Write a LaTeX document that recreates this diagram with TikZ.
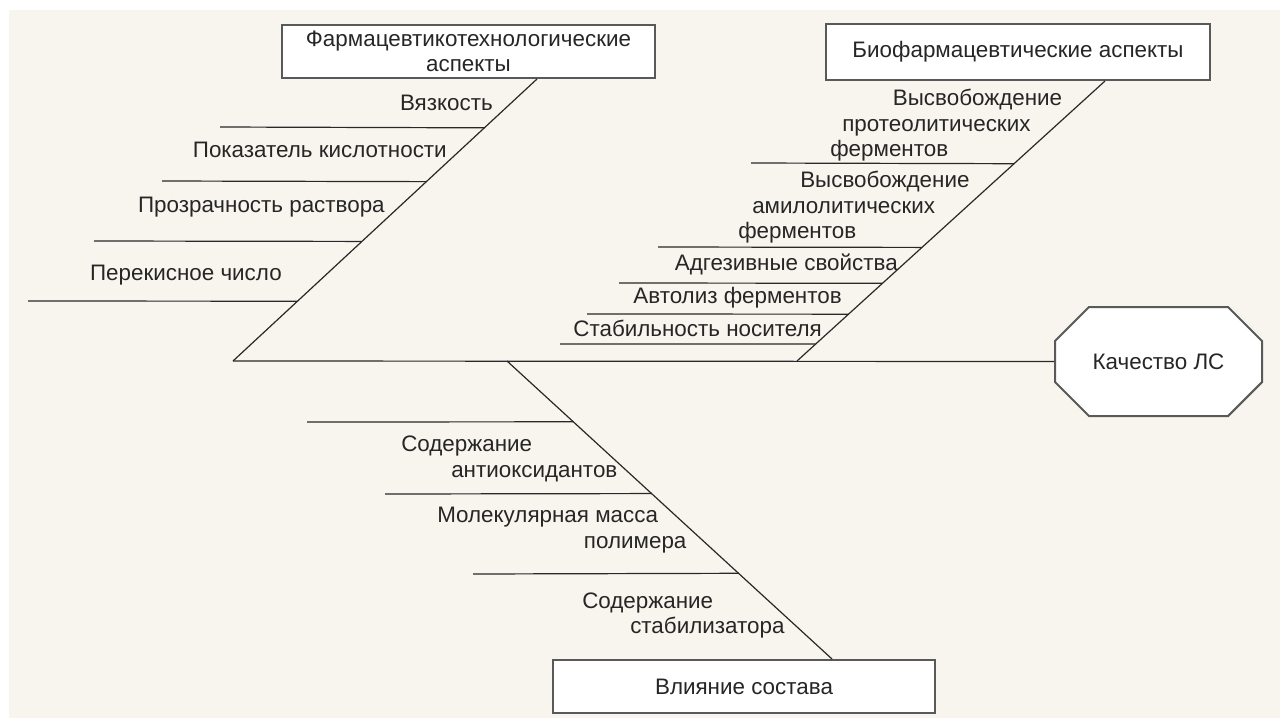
\documentclass[tikz,border=0pt]{standalone}
\usepackage{fontspec}
\setmainfont{Liberation Sans}
\usetikzlibrary{calc, shapes.misc}
\definecolor{paper}{RGB}{248,245,238}
\definecolor{ink}{RGB}{40,40,40}
\newcommand{\fbfont}{\fontsize{16.8}{19.2}\selectfont}
\tikzset{
	bone/.style={draw=ink, line width=0.9pt},
	catbox/.style={draw=black!65, line width=1.5pt, fill=white, inner sep=0pt, align=center, font=\fbfont, text=black!85},
	cause/.style={inner sep=0pt, font=\fbfont, text=black!85, align=left},
}

\begin{document}
\begin{tikzpicture}[x=0.75pt, y=-0.75pt]
	\useasboundingbox (0,0) rectangle (1280,718);
	\fill[paper] (9,10) rectangle (1280,718);

	% categories and effect
	\node[catbox, minimum width=373*0.75pt, minimum height=53*0.75pt] (tech) at (468.5,51.5) {Фармацевтикотехнологические\\аспекты};
	\node[catbox, minimum width=384*0.75pt, minimum height=56*0.75pt] (bio) at (1018,52) {Биофармацевтические аспекты};
	\node[catbox, minimum width=382*0.75pt, minimum height=53*0.75pt] (comp) at (744,686.5) {Влияние состава};
	\node[catbox, chamfered rectangle, chamfered rectangle xsep=26pt, chamfered rectangle ysep=19.5pt,
		minimum width=207*0.75pt, minimum height=109*0.75pt] (qual) at (1158.5,361.5) {Качество ЛС};

	% spine
	\coordinate (tail) at (233,361);
	\draw[bone] (tail) -- (qual.west);

	% bones
	\coordinate (fA) at ($(tech.south west)+(256,0)$);
	\coordinate (fB) at ($(bio.south west)+(280,0)$);
	\coordinate (fC) at ($(comp.north west)+(280,0)$);
	\coordinate (sB) at (797,361);
	\coordinate (sC) at (507,361);
	\draw[bone] (fA) -- (tail);
	\draw[bone] (fB) -- (sB);
	\draw[bone] (sC) -- (fC);

	\foreach \y/\x [count=\i] in {127/220,181/162,241/94,301/28}{
		\coordinate (ta\i) at (\x,\y);
		\draw[bone] (ta\i) -- ($(fA)!{(\y-78)/283}!(tail)$);
	}
	\foreach \y/\x [count=\i] in {163/751,247/658,283/619,314/587,344/560}{
		\coordinate (ba\i) at (\x,\y);
		\draw[bone] (ba\i) -- ($(fB)!{(\y-80)/281}!(sB)$);
	}
	\foreach \y/\x [count=\i] in {422/307,494/385,574/473}{
		\coordinate (ca\i) at (\x,\y);
		\draw[bone] (ca\i) -- ($(sC)!{(\y-361)/299}!(fC)$);
	}

	% causes
	\node[cause, anchor=east] (visc) at (493,103) {Вязкость};
	\node[cause, anchor=east] (ph) at (447,150) {Показатель кислотности};
	\node[cause, anchor=east] (clar) at (385,207) {Прозрачность раствора};
	\node[cause, anchor=east] (perox) at (282,275) {Перекисное число};

	\node[cause, anchor=west] (prot) at (830,125.5) {\hspace*{47pt}Высвобождение\\\hspace*{9pt}протеолитических\\ферментов};
	\node[cause, anchor=west] (amyl) at (738,207.5) {\hspace*{46.5pt}Высвобождение\\\hspace*{10.5pt}амилолитических\\ферментов};
	\node[cause, anchor=east] (adh) at (898,264) {Адгезивные свойства};
	\node[cause, anchor=east] (auto) at (842,298) {Автолиз ферментов};
	\node[cause, anchor=east] (stab) at (822,328) {Стабильность носителя};

	\node[cause, anchor=west] (antiox) at (401,459) {Содержание\\\hspace*{37.5pt}антиоксидантов};
	\node[cause, anchor=west] (mass) at (437,530) {Молекулярная масса\\\hspace*{110pt}полимера};
	\node[cause, anchor=west] (stabil) at (582,615.5) {Содержание\\\hspace*{36pt}стабилизатора};
\end{tikzpicture}
\end{document}
